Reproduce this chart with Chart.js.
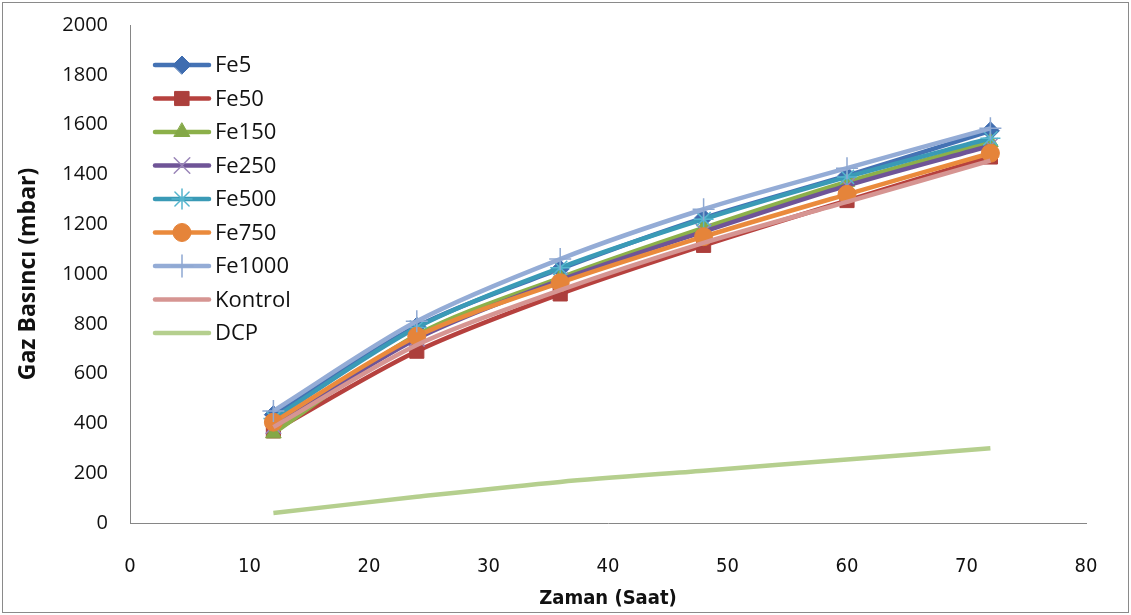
<!DOCTYPE html>
<html>
<head>
<meta charset="utf-8">
<title>Gaz Basıncı</title>
<script src="https://cdn.jsdelivr.net/npm/chart.js@4.4.1/dist/chart.umd.min.js"></script>
<style>
  html, body { margin: 0; padding: 0; background: #fff; }
  #wrap { position: relative; width: 1131px; height: 615px; }
</style>
</head>
<body>
<div id="wrap"><canvas id="chart" width="1131" height="615"></canvas></div>
<script>
// sampling times (hours)
const hours = [12, 24, 36, 48, 60, 72];

// gas pressure, mbar
const fe5     = [435, 790, 1020, 1225, 1395, 1575];
const fe50    = [370, 690, 920, 1115, 1295, 1470];
const fe150   = [360, 755, 985, 1185, 1370, 1530];
const fe250   = [390, 740, 975, 1170, 1355, 1515];
const fe500   = [420, 785, 1025, 1220, 1390, 1545];
const fe750   = [405, 750, 965, 1150, 1320, 1485];
const fe1000  = [450, 810, 1060, 1260, 1425, 1585];
const kontrol = [385, 715, 935, 1125, 1290, 1455];
const dcp     = [40, 105, 165, 210, 255, 300];

const xTicks = [0, 10, 20, 30, 40, 50, 60, 70, 80];
const yTicks = [0, 200, 400, 600, 800, 1000, 1200, 1400, 1600, 1800, 2000];

const series = [
  { label: 'Fe5',     values: fe5,     line: '#4472b4', mark: '#3f6db0', style: 'rectRot',  r: 9,  bw: 1 },
  { label: 'Fe50',    values: fe50,    line: '#b6413e', mark: '#ac3f3c', style: 'rect',     r: 10, bw: 1 },
  { label: 'Fe150',   values: fe150,   line: '#8cb04a', mark: '#84a847', style: 'triangle', r: 9,  bw: 1 },
  { label: 'Fe250',   values: fe250,   line: '#6f5497', mark: '#9a86b8', style: 'crossRot', r: 11, bw: 1.5 },
  { label: 'Fe500',   values: fe500,   line: '#3a9ab6', mark: '#55b5cd', style: 'star',     r: 10, bw: 1.5 },
  { label: 'Fe750',   values: fe750,   line: '#ea8a3c', mark: '#e5843a', style: 'circle',   r: 9,  bw: 1 },
  { label: 'Fe1000',  values: fe1000,  line: '#94acd6', mark: '#8ea8d2', style: 'cross',    r: 11, bw: 1.5 },
  { label: 'Kontrol', values: kontrol, line: '#d69592', mark: '#d69592', style: false,      r: 0,  bw: 0 },
  { label: 'DCP',     values: dcp,     line: '#b5cf8e', mark: '#b5cf8e', style: false,      r: 0,  bw: 0 }
];

const datasets = series.map((s, i) => ({
  label: s.label,
  data: hours.map((h, k) => ({ x: h, y: s.values[k] })),
  borderColor: s.line,
  borderWidth: 4.5,
  backgroundColor: s.mark,
  pointBackgroundColor: s.mark,
  pointBorderColor: s.mark,
  pointBorderWidth: s.bw,
  pointStyle: s.style,
  pointRadius: s.r,
  pointHoverRadius: s.r,
  tension: 0.3,
  fill: false,
  order: series.length - i   // later series on top
}));

// white background + outer frame
const frame = {
  id: 'frame',
  beforeDraw(chart) {
    const ctx = chart.ctx;
    ctx.save();
    ctx.fillStyle = '#fff';
    ctx.fillRect(0, 0, chart.width, chart.height);
    ctx.strokeStyle = '#8a8a8a';
    ctx.lineWidth = 1;
    ctx.strokeRect(2.5, 2.5, chart.width - 5, chart.height - 5);
    ctx.restore();
  }
};

// legend drawn inside the plot, top left, with line + marker
const insideLegend = {
  id: 'insideLegend',
  afterDatasetsDraw(chart) {
    const ctx = chart.ctx;
    const x0 = 155, x1 = 209, tx = 215;
    let y = 65;
    ctx.save();
    series.forEach(s => {
      ctx.strokeStyle = s.line;
      ctx.lineWidth = 4.5;
      ctx.lineCap = 'round';
      ctx.beginPath();
      ctx.moveTo(x0, y);
      ctx.lineTo(x1, y);
      ctx.stroke();
      if (s.style) {
        ctx.fillStyle = s.mark;
        ctx.strokeStyle = s.mark;
        ctx.lineWidth = s.bw;
        Chart.helpers.drawPoint(ctx, { pointStyle: s.style, radius: s.r, rotation: 0, borderWidth: s.bw }, (x0 + x1) / 2, y);
      }
      ctx.fillStyle = '#111';
      ctx.font = '22px "Open Sans"';
      ctx.textBaseline = 'middle';
      ctx.textAlign = 'left';
      ctx.fillText(s.label, tx, y + 1);
      y += 33.5;
    });
    ctx.restore();
  }
};

new Chart(document.getElementById('chart'), {
  type: 'line',
  data: { datasets },
  plugins: [frame, insideLegend],
  options: {
    responsive: false,
    animation: false,
    layout: { padding: { top: 25, right: 45, bottom: 0, left: 0 } },
    plugins: {
      legend: { display: false },
      tooltip: { enabled: false }
    },
    scales: {
      x: {
        type: 'linear',
        min: 0,
        max: 80,
        afterBuildTicks(scale) { scale.ticks = xTicks.map(v => ({ value: v })); },
        afterFit(scale) {
          scale.height = 92;
          scale.paddingLeft = 0;
          scale.paddingRight = 0;
        },
        grid: { display: false, drawTicks: false },
        border: { display: true, color: '#868686', width: 1 },
        ticks: {
          padding: 32,
          color: '#111',
          callback: v => String(v),
          font: { family: '"Liberation Sans Narrow", "DejaVu Sans Condensed", Roboto', size: 20 }
        },
        title: {
          display: true,
          text: 'Zaman (Saat)',
          color: '#111',
          font: { family: '"Liberation Sans Narrow", "DejaVu Sans Condensed", Roboto', size: 20, weight: 'bold' },
          padding: { top: 0, bottom: 4 }
        }
      },
      y: {
        min: 0,
        max: 2000,
        afterBuildTicks(scale) { scale.ticks = yTicks.map(v => ({ value: v })); },
        afterFit(scale) {
          scale.width = 130;
          scale.paddingTop = 0;
          scale.paddingBottom = 0;
        },
        grid: { display: false, drawTicks: false },
        border: { display: true, color: '#868686', width: 1 },
        ticks: {
          padding: 22,
          color: '#111',
          callback: v => String(v),
          font: { family: '"Open Sans"', size: 20 }
        },
        title: {
          display: true,
          text: 'Gaz Basıncı (mbar)',
          color: '#111',
          font: { family: '"Open Sans"', size: 23, weight: 'bold' },
          padding: { top: 15, bottom: 0 }
        }
      }
    }
  }
});
</script>
</body>
</html>
